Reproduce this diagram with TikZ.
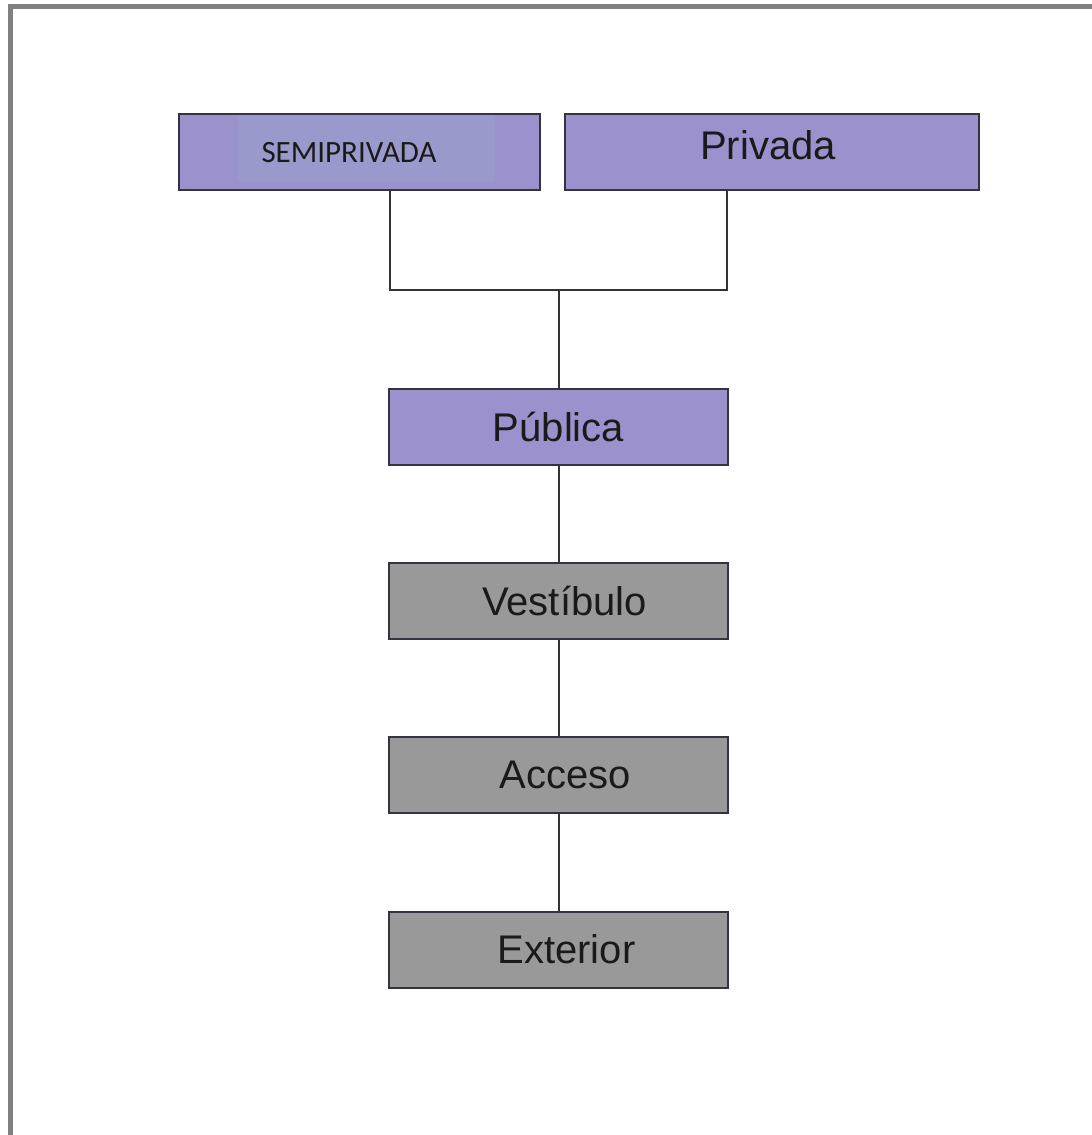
\documentclass[tikz,border=0pt]{standalone}
\usepackage{fontspec}
\setmainfont{Liberation Sans}
\newfontfamily\calib{Carlito}
\definecolor{frameg}{HTML}{808080}
\definecolor{purp}{HTML}{9B92CD}
\definecolor{purpin}{HTML}{9A99CB}
\definecolor{boxg}{HTML}{999999}
\definecolor{edge}{HTML}{353340}
\definecolor{txt}{HTML}{1A1A1A}
\tikzset{
  boxbase/.style={rectangle, draw=edge, line width=2, inner sep=0, text=txt,
    font=\fontsize{40}{46}\selectfont},
  pbox/.style={boxbase, fill=purp},
  gbox/.style={boxbase, fill=boxg, minimum width=339, minimum height=76},
  conn/.style={draw=black!80, line width=2}
}
\begin{document}
\begin{tikzpicture}[x=1pt,y=-1pt]
\useasboundingbox (0,0) rectangle (1092,1135);
\fill[white] (0,0) rectangle (1092,1135);
\draw[frameg, line width=5] (10,1140) -- (10,6.5) -- (1100,6.5);

\node[pbox, minimum width=361, minimum height=76] (semi) at (359.5,152) {};
\node[fill=purpin, inner sep=0, minimum width=257, minimum height=66] (semiin) at (366.5,148) {};
\node[text=txt, inner sep=0, font=\calib\fontsize{31}{36}\selectfont] (semit) at (349,153) {SEMIPRIVADA};

\node[pbox, minimum width=414, minimum height=76] (priv) at (772,152) {};
\node[text=txt, inner sep=0, font=\fontsize{40}{46}\selectfont] (privt) at (768,145) {Privada};

\node[pbox, minimum width=339, minimum height=76] (pub) at (558.5,427) {P\'ublica};
\node[gbox] (vest) at (558.5,601) {\hspace{12pt}Vest\'ibulo};
\node[gbox] (acc) at (558.5,775) {\hspace{14pt}Acceso};
\node[gbox] (ext) at (558.5,949.5) {\hspace{16pt}Exterior};

\coordinate (j) at (558.5,290);
\draw[conn] ([xshift=30.5pt]semi.south) |- (j) -| ([xshift=-45pt]priv.south);
\draw[conn] (j) -- (pub.north);
\draw[conn] (pub.south) -- (vest.north);
\draw[conn] (vest.south) -- (acc.north);
\draw[conn] (acc.south) -- (ext.north);
\end{tikzpicture}
\end{document}
